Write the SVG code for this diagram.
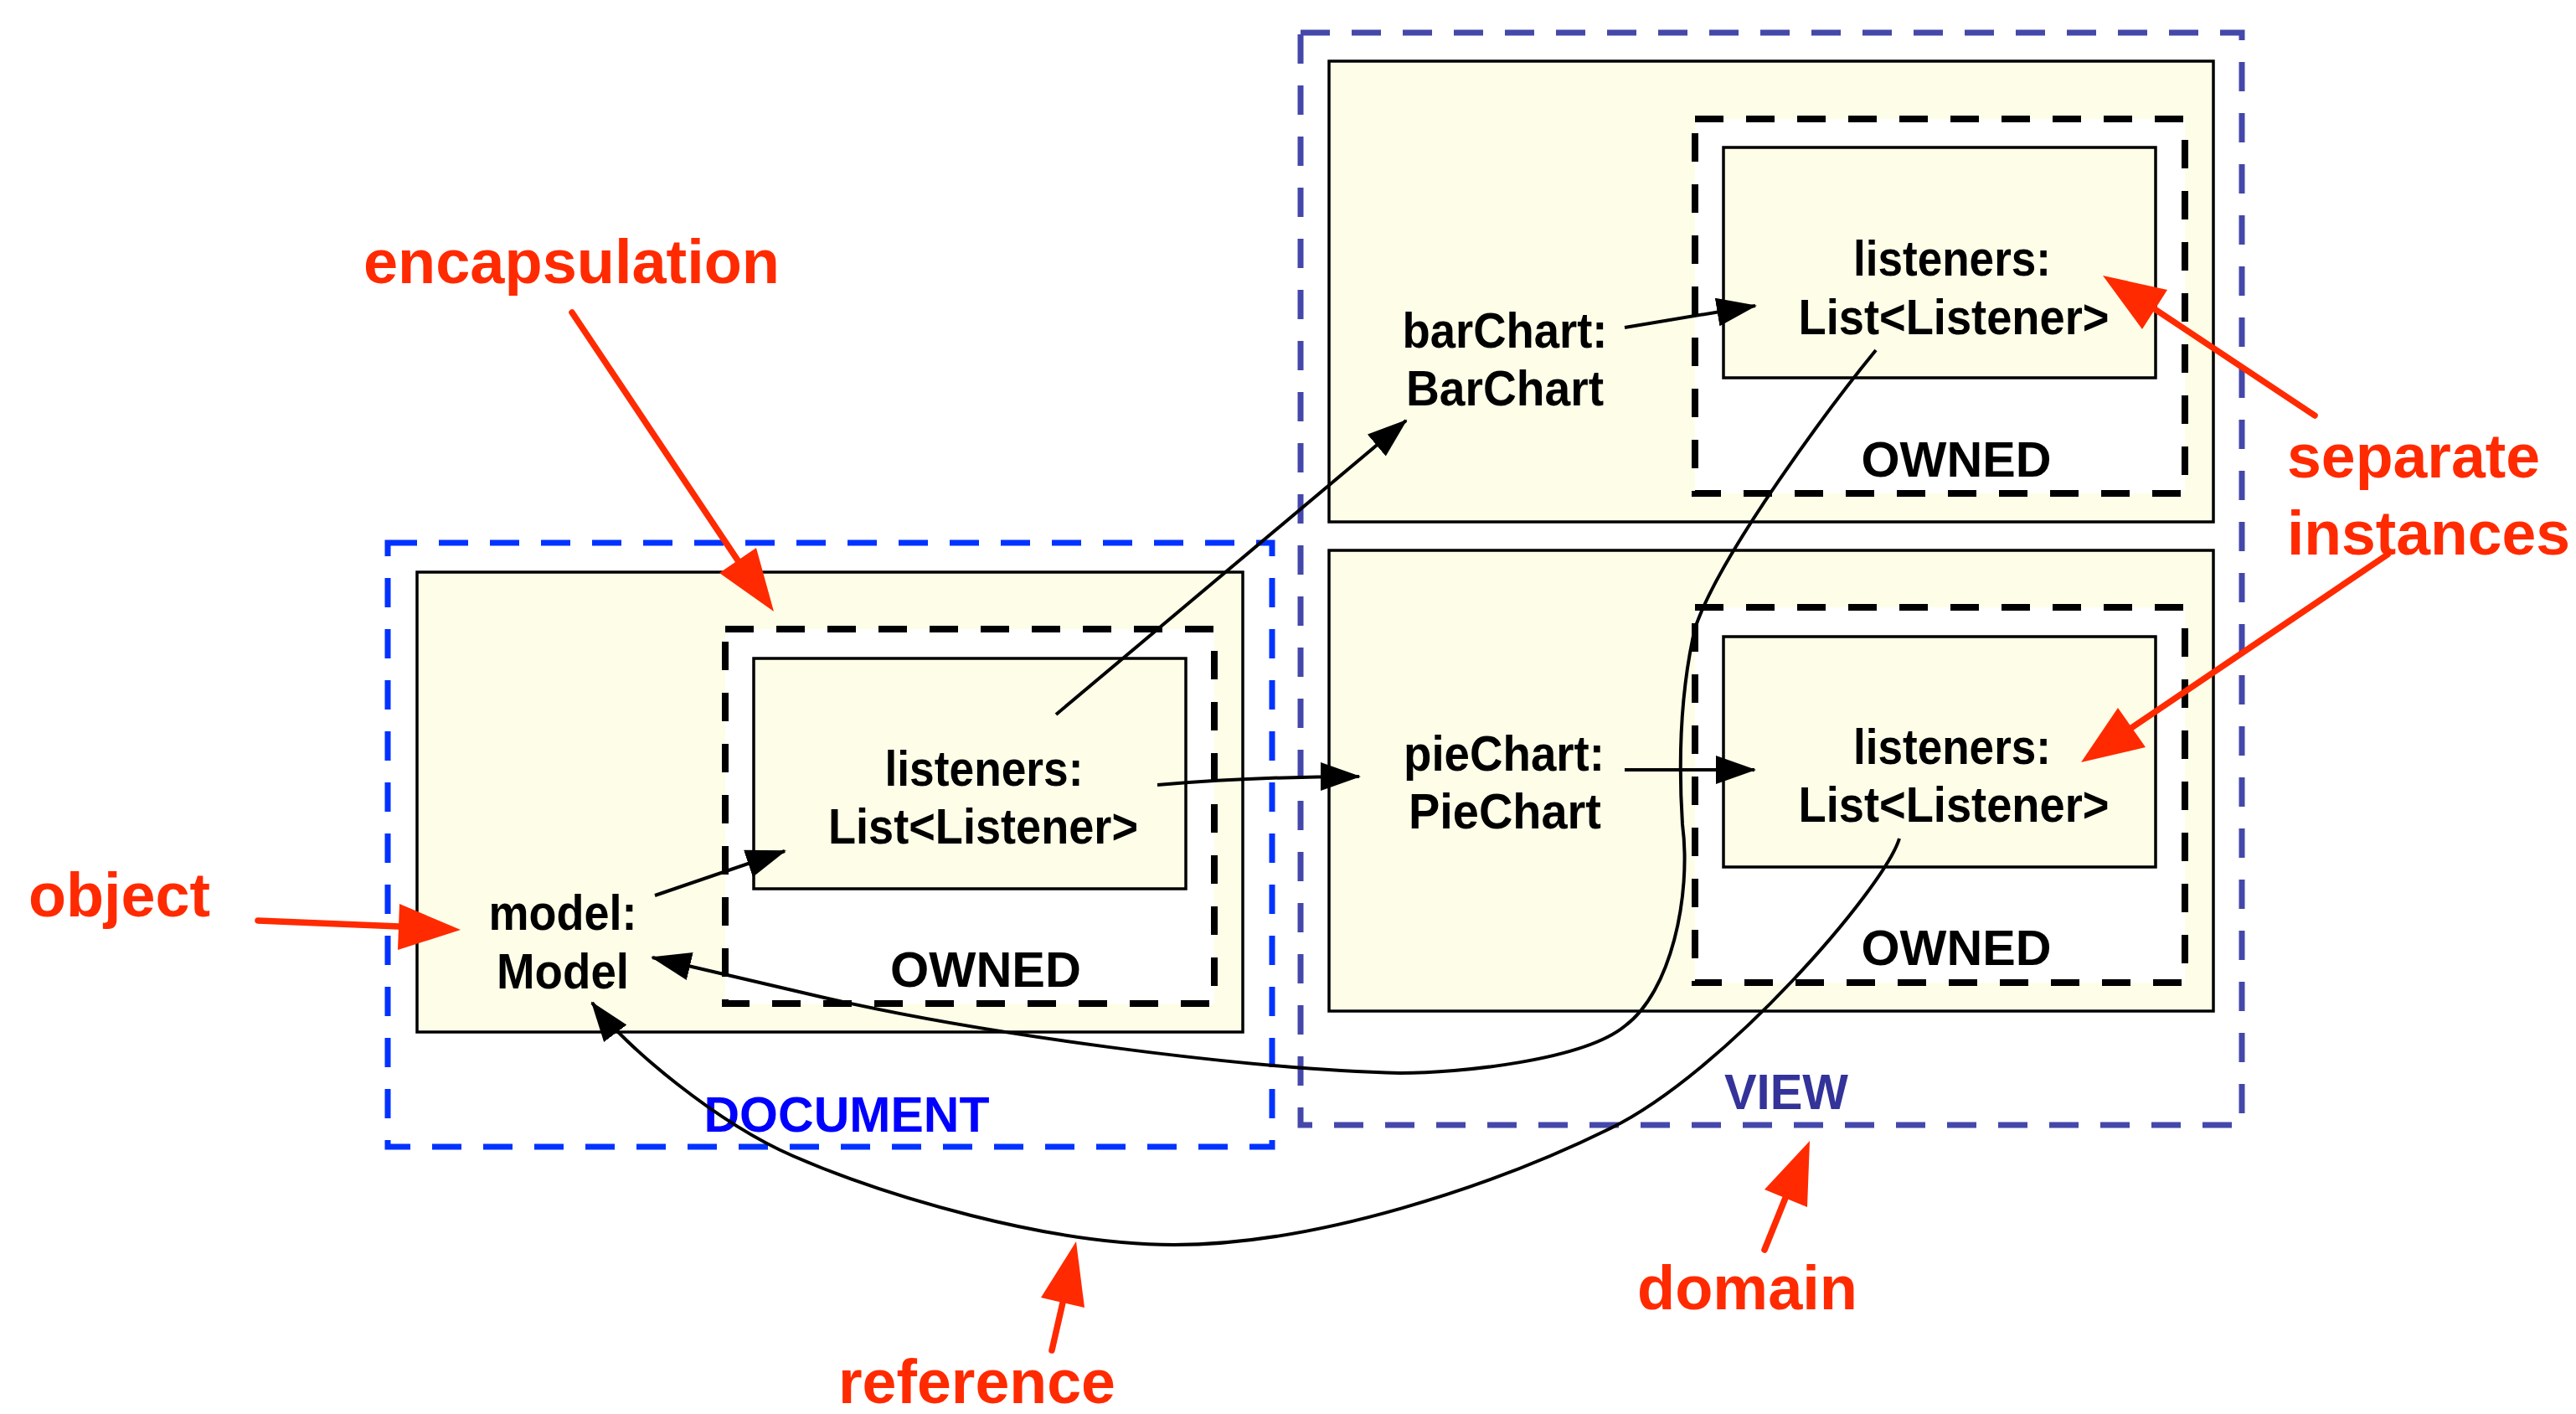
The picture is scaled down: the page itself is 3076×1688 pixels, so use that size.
<svg xmlns="http://www.w3.org/2000/svg" width="3076" height="1688" viewBox="0 0 3076 1688">
<style>
text{font-family:"Liberation Sans",Arial,Helvetica,sans-serif;font-weight:bold;text-anchor:middle}
.lbl{font-size:59px;fill:#000}
.red{font-size:74px;fill:#ff2a00;text-anchor:start}
.obj{fill:#fefee8;stroke:#000;stroke-width:3.5}
.own{fill:#fff;stroke:#000;stroke-width:8;stroke-dasharray:34 27}
.dom{fill:none;stroke-width:7;stroke-dasharray:35 26}
.conn{fill:none;stroke:#000;stroke-width:4}
.rl{fill:none;stroke:#ff2a00;stroke-width:7.5;stroke-linecap:round}
.rh{fill:#ff2a00}
</style>
<defs>
<marker id="ah" viewBox="0 0 48 34" refX="46" refY="17" markerWidth="48" markerHeight="34" markerUnits="userSpaceOnUse" orient="auto">
<path d="M0,0 L48,17 L0,34 z" fill="#000"/>
</marker>
</defs>
<rect width="3076" height="1688" fill="#fff"/>

<g id="document-domain">
<rect class="dom" x="463" y="648" width="1056" height="721" stroke="#0033ff"/>
<text x="1011" y="1351" style="font-size:59px;fill:#0000ff" textLength="341" lengthAdjust="spacingAndGlyphs">DOCUMENT</text>
</g>
<g id="view-domain">
<rect class="dom" x="1553" y="39" width="1124" height="1304" stroke="#4448aa"/>
<text x="2133" y="1324" style="font-size:59px;fill:#333399" textLength="148" lengthAdjust="spacingAndGlyphs">VIEW</text>
</g>

<g id="model">
<rect class="obj" x="498" y="683" width="986" height="549"/>
<text class="lbl" x="672" y="1110" textLength="177" lengthAdjust="spacingAndGlyphs">model:</text>
<text class="lbl" x="672" y="1180" textLength="158" lengthAdjust="spacingAndGlyphs">Model</text>
</g>
<g id="model-owned">
<rect class="own" x="866" y="751" width="584" height="447"/>
<text class="lbl" x="1177" y="1178" textLength="228" lengthAdjust="spacingAndGlyphs">OWNED</text>
</g>
<g id="model-listeners">
<rect class="obj" x="900" y="786" width="516" height="275"/>
<text class="lbl" x="1175" y="938" textLength="237" lengthAdjust="spacingAndGlyphs">listeners:</text>
<text class="lbl" x="1174" y="1007" textLength="370" lengthAdjust="spacingAndGlyphs">List&lt;Listener&gt;</text>
</g>

<g id="barchart">
<rect class="obj" x="1587" y="73" width="1056" height="550"/>
<text class="lbl" x="1797" y="415" textLength="245" lengthAdjust="spacingAndGlyphs">barChart:</text>
<text class="lbl" x="1797" y="484" textLength="236" lengthAdjust="spacingAndGlyphs">BarChart</text>
</g>
<g id="barchart-owned">
<rect class="own" x="2024" y="142" width="585" height="447"/>
<text class="lbl" x="2336" y="569" textLength="227" lengthAdjust="spacingAndGlyphs">OWNED</text>
</g>
<g id="barchart-listeners">
<rect class="obj" x="2058" y="176" width="516" height="275"/>
<text class="lbl" x="2331" y="329" textLength="236" lengthAdjust="spacingAndGlyphs">listeners:</text>
<text class="lbl" x="2333" y="399" textLength="371" lengthAdjust="spacingAndGlyphs">List&lt;Listener&gt;</text>
</g>

<g id="piechart">
<rect class="obj" x="1587" y="657" width="1056" height="550"/>
<text class="lbl" x="1796" y="920" textLength="240" lengthAdjust="spacingAndGlyphs">pieChart:</text>
<text class="lbl" x="1797" y="989" textLength="230" lengthAdjust="spacingAndGlyphs">PieChart</text>
</g>
<g id="piechart-owned">
<rect class="own" x="2024" y="725" width="585" height="448"/>
<text class="lbl" x="2336" y="1152" textLength="227" lengthAdjust="spacingAndGlyphs">OWNED</text>
</g>
<g id="piechart-listeners">
<rect class="obj" x="2058" y="760" width="516" height="275"/>
<text class="lbl" x="2331" y="912" textLength="236" lengthAdjust="spacingAndGlyphs">listeners:</text>
<text class="lbl" x="2333" y="981" textLength="371" lengthAdjust="spacingAndGlyphs">List&lt;Listener&gt;</text>
</g>

<g id="connectors">
<path class="conn" marker-end="url(#ah)" d="M782,1069 L937,1016"/>
<path class="conn" marker-end="url(#ah)" d="M1261,853 L1679,502"/>
<path class="conn" marker-end="url(#ah)" d="M1382,937 Q1500,927 1623,927"/>
<path class="conn" marker-end="url(#ah)" d="M1940,391 L2096,365"/>
<path class="conn" marker-end="url(#ah)" d="M1940,919 L2095,919"/>
<path class="conn" marker-end="url(#ah)" d="M2240,418 C2190,479 2054,660 2024,750 C2006,828 2004,906 2009,984 C2020,1070 1995,1185 1940,1225 C1890,1266 1742,1281 1672,1281 C1480,1276 1170,1234 980,1190 L779,1143"/>
<path class="conn" marker-end="url(#ah)" d="M2268,1001 C2250,1060 2060,1280 1923,1347 C1783,1416 1572,1486 1402,1486 C1252,1486 1057,1428 947,1380 C857,1341 747,1250 707,1197"/>
</g>

<g id="annotations">
<text class="red" x="434" y="338" textLength="497" lengthAdjust="spacingAndGlyphs">encapsulation</text>
<path class="rl" d="M683,373 L881,669"/>
<polygon class="rh" points="924,730 859,684 903,654"/>
<text class="red" x="34" y="1094" textLength="217" lengthAdjust="spacingAndGlyphs">object</text>
<path class="rl" d="M308,1099 L477,1106"/>
<polygon class="rh" points="550,1110 477,1079 475,1134"/>
<text class="red" x="1001" y="1675" textLength="331" lengthAdjust="spacingAndGlyphs">reference</text>
<path class="rl" d="M1256,1612 L1269,1555"/>
<polygon class="rh" points="1285,1482 1243,1549 1295,1561"/>
<text class="red" x="1955" y="1563" textLength="263" lengthAdjust="spacingAndGlyphs">domain</text>
<path class="rl" d="M2107,1492 L2132,1430"/>
<polygon class="rh" points="2161,1362 2107,1420 2158,1441"/>
<text class="red" x="2731" y="570" textLength="302" lengthAdjust="spacingAndGlyphs">separate</text>
<text class="red" x="2731" y="662" textLength="338" lengthAdjust="spacingAndGlyphs">instances</text>
<path class="rl" d="M2764,496 L2573,369"/>
<polygon class="rh" points="2511,329 2558,393 2588,346"/>
<path class="rl" d="M2851,662 L2545,869"/>
<polygon class="rh" points="2485,910 2529,845 2562,892"/>
</g>
</svg>
